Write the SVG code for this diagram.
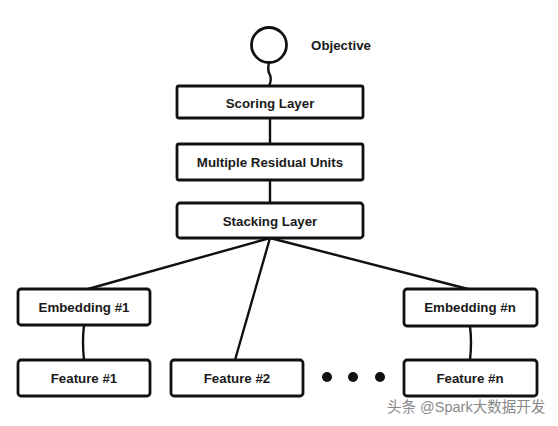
<svg xmlns="http://www.w3.org/2000/svg" width="558" height="426" viewBox="0 0 558 426">
<style>
.box{fill:#fff;stroke:#111;stroke-width:2.8;stroke-linejoin:round}
.lbl{font-family:"Liberation Sans",Arial,sans-serif;font-weight:bold;font-size:13.3px;fill:#1a1a1a;text-anchor:middle;dominant-baseline:central}
.edge{stroke:#111;stroke-width:2.4;fill:none;stroke-linecap:round}
.wm{font-family:"Liberation Sans","Noto Sans CJK SC",sans-serif;font-size:14.5px;fill:#888}
</style>
<rect width="558" height="426" fill="#fff"/>
<g id="connectors">
<path class="edge" d="M269,63 Q267,70 270,75 Q272,80 269,86"/>
<path class="edge" d="M270,118 L270,144"/>
<path class="edge" d="M270,180 L270,203"/>
<path class="edge" d="M270,238 L88,289"/>
<path class="edge" d="M270,238 L235,360"/>
<path class="edge" d="M270,238 L468,289"/>
<path class="edge" d="M84,325 Q82,342 84,360"/>
<path class="edge" d="M470,326 Q472,343 470,360"/>
</g>
<g id="objective">
<circle cx="269" cy="45" r="17.5" fill="#fff" stroke="#111" stroke-width="2.8"/>
<text class="lbl" x="341" y="45">Objective</text>
</g>
<g id="scoring">
<rect class="box" x="177" y="86" width="186" height="32" rx="2"/>
<text class="lbl" x="270" y="103">Scoring Layer</text>
</g>
<g id="residual">
<rect class="box" x="177" y="144" width="186" height="36" rx="2"/>
<text class="lbl" x="270" y="162">Multiple Residual Units</text>
</g>
<g id="stacking">
<rect class="box" x="177" y="203" width="186" height="35" rx="3"/>
<text class="lbl" x="270" y="221">Stacking Layer</text>
</g>
<g id="emb1">
<rect class="box" x="18" y="289" width="132" height="36" rx="3"/>
<text class="lbl" x="84" y="307">Embedding #1</text>
</g>
<g id="embn">
<rect class="box" x="404" y="289" width="133" height="37" rx="3"/>
<text class="lbl" x="470" y="307">Embedding #n</text>
</g>
<g id="feat1">
<rect class="box" x="18" y="360" width="132" height="36" rx="3"/>
<text class="lbl" x="84" y="378">Feature #1</text>
</g>
<g id="feat2">
<rect class="box" x="171" y="360" width="132" height="36" rx="3"/>
<text class="lbl" x="237" y="378">Feature #2</text>
</g>
<g id="featn">
<rect class="box" x="404" y="360" width="133" height="36" rx="3"/>
<text class="lbl" x="470" y="378">Feature #n</text>
</g>
<g id="dots" fill="#111">
<circle cx="327" cy="377" r="5"/>
<circle cx="353" cy="377" r="5"/>
<circle cx="380" cy="377" r="5"/>
</g>
<text class="wm" x="387" y="412">头条 @Spark大数据开发</text>
</svg>
